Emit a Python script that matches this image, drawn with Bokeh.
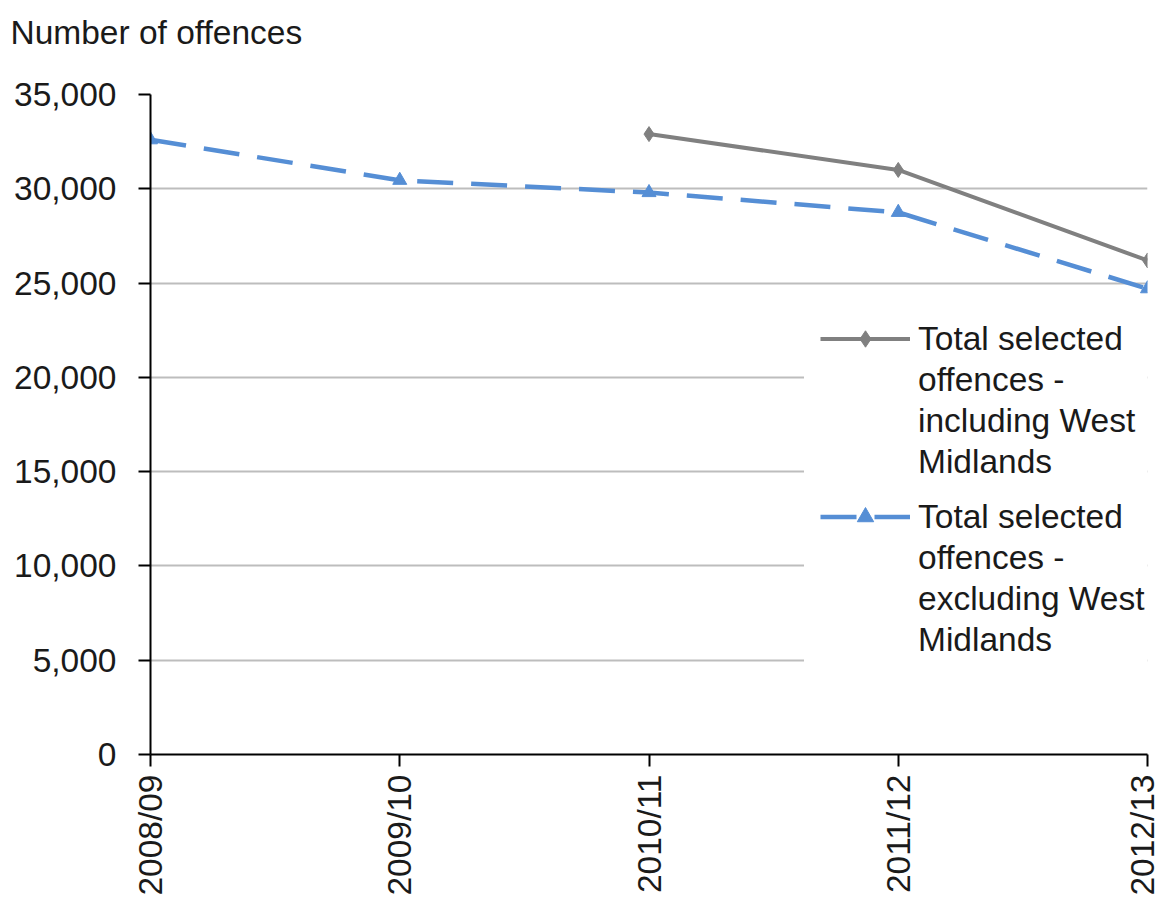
from bokeh.plotting import figure
from bokeh.models import FixedTicker, NumeralTickFormatter, Range1d, Legend, LegendItem
from bokeh.embed import file_html
from bokeh.resources import INLINE
from math import pi

years = ["2008/09", "2009/10", "2010/11", "2011/12", "2012/13"]
incl_x = [2, 3, 4]
incl_vals = [32900, 31000, 26200]
excl_x = [0, 1, 2, 3, 4]
excl_vals = [32600, 30450, 29800, 28750, 24700]
y_ticks = [0, 5000, 10000, 15000, 20000, 25000, 30000, 35000]
incl_label = ["Total selected", "offences -", "including West", "Midlands"]
excl_label = ["Total selected", "offences -", "excluding West", "Midlands"]

FONT = "Liberation Sans"
TXT = "#1a1a1a"
GREY = "#808080"
BLUE = "#558ED5"
AX_FS = "33.5px"

p = figure(width=1160, height=899, output_backend="svg", toolbar_location=None,
           x_range=Range1d(0, 4), y_range=Range1d(0, 35000),
           min_border_left=150, min_border_top=94, min_border_bottom=145, min_border_right=13)
p.outline_line_color = None

p.title.text = "Number of offences\n "
p.title.align = "left"
p.title.offset = -140
p.title.standoff = 13
p.title.text_font = FONT
p.title.text_font_size = AX_FS
p.title.text_font_style = "normal"
p.title.text_color = TXT

# axes
p.xaxis.ticker = FixedTicker(ticks=list(range(len(years))))
p.xaxis.major_label_overrides = {i: y for i, y in enumerate(years)}
p.xaxis.major_label_orientation = pi / 2
p.yaxis.ticker = FixedTicker(ticks=y_ticks)
p.yaxis.formatter = NumeralTickFormatter(format="0,0")
for ax in (p.xaxis[0], p.yaxis[0]):
    ax.axis_line_color = "black"
    ax.axis_line_width = 2
    ax.major_tick_line_color = "black"
    ax.major_tick_line_width = 2
    ax.major_tick_in = 0
    ax.major_tick_out = 12
    ax.minor_tick_line_color = None
    ax.major_label_text_font = FONT
    ax.major_label_text_font_size = AX_FS
    ax.major_label_text_color = TXT
p.yaxis.major_label_standoff = 22
p.xaxis.major_label_standoff = 8

p.xgrid.grid_line_color = None
p.ygrid.ticker = FixedTicker(ticks=y_ticks)
p.ygrid.grid_line_color = "#bdbdbd"
p.ygrid.grid_line_width = 2

# series
l1 = p.line(incl_x, incl_vals, line_color=GREY, line_width=4)
s1 = p.scatter(incl_x, incl_vals, marker="diamond", size=15, fill_color=GREY, line_color=GREY)
l2 = p.line(excl_x, excl_vals, line_color=BLUE, line_width=4.5, line_dash="36 18")
s2 = p.scatter(excl_x, excl_vals, marker="triangle", size=14, fill_color=BLUE, line_color=BLUE)
blank = p.line([], [], line_alpha=0)


def make_legend(lines, rends, loc):
    items = [LegendItem(label=lines[0], renderers=rends)]
    items += [LegendItem(label=t, renderers=[blank]) for t in lines[1:]]
    lg = Legend(items=items, location=loc)
    lg.background_fill_color = "white"
    lg.background_fill_alpha = 1
    lg.border_line_color = "white"
    lg.border_line_width = 16
    lg.padding = 0
    lg.margin = 0
    lg.spacing = 0
    lg.glyph_width = 90
    lg.glyph_height = 41
    lg.label_height = 41
    lg.label_standoff = 8
    lg.label_text_font = FONT
    lg.label_text_font_size = "33.5px"
    lg.label_text_color = TXT
    lg.label_text_baseline = "middle"
    return lg


p.add_layout(make_legend(incl_label, [l1, s1], (654, 256)))
p.add_layout(make_legend(excl_label, [l2, s2], (654, 78)))

open("out.html", "w").write(file_html(p, INLINE))
